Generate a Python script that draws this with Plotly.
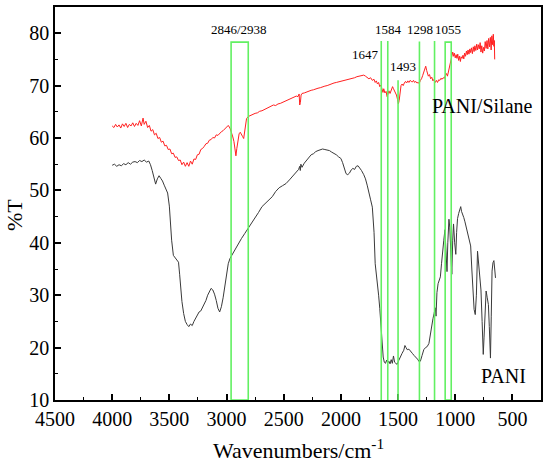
import plotly.graph_objects as go

# PANI spectrum (black)
pani_wn = [4000, 3980, 3960, 3940, 3920, 3900, 3880, 3860, 3840, 3820, 3800, 3780, 3760, 3740, 3720, 3700,
           3680, 3665, 3650, 3635, 3620, 3605, 3590, 3575, 3560, 3545, 3530, 3515, 3500, 3490, 3480, 3465,
           3450, 3435, 3420, 3410, 3400, 3390, 3375, 3360, 3345, 3330, 3315, 3300, 3285, 3270, 3255, 3240,
           3225, 3210, 3195, 3180, 3165, 3150, 3135, 3120, 3105, 3090, 3075, 3060, 3045, 3030, 3015, 3000,
           2985, 2970, 2950, 2930, 2900, 2870, 2840, 2810, 2780, 2750, 2720, 2690, 2660, 2630, 2600, 2570,
           2540, 2510, 2480, 2450, 2420, 2390, 2370, 2360, 2355, 2350, 2340, 2320, 2300, 2280, 2260, 2240,
           2220, 2200, 2180, 2160, 2140, 2120, 2100, 2080, 2060, 2040, 2020, 2000, 1985, 1970, 1955, 1940,
           1925, 1910, 1895, 1880, 1865, 1850, 1835, 1820, 1800, 1785, 1770, 1755, 1740, 1725, 1710, 1700,
           1690, 1680, 1670, 1660, 1650, 1640, 1630, 1620, 1610, 1600, 1590, 1580, 1570, 1560, 1550, 1540,
           1530, 1520, 1508, 1495, 1480, 1465, 1450, 1440, 1430, 1420, 1405, 1390, 1375, 1360, 1345, 1330,
           1315, 1305, 1290, 1275, 1260, 1245, 1230, 1215, 1205, 1195, 1185, 1175, 1168, 1160, 1150, 1140,
           1130, 1120, 1110, 1100, 1090, 1080, 1072, 1065, 1055, 1048, 1040, 1030, 1022, 1015, 1005, 995,
           988, 980, 970, 960, 952, 945, 935, 925, 915, 905, 895, 885, 875, 865, 855, 845,
           835, 825, 815, 805, 795, 785, 775, 765, 755, 748, 740, 730, 720, 710, 702, 692,
           685, 678, 670, 662, 655, 648]
pani_t = [54.8, 55.0, 54.6, 54.9, 54.7, 55.1, 54.9, 55.3, 55.0, 55.4, 55.5, 55.3, 55.7, 55.5, 55.8, 55.4,
          55.6, 54.9, 53.8, 52.4, 51.2, 52.2, 52.8, 52.3, 51.8, 51.0, 50.2, 49.5, 47.0, 43.5, 40.5, 37.6,
          37.2, 36.8, 36.3, 34.0, 31.0, 28.8, 26.5, 25.0, 24.4, 24.0, 24.5, 24.2, 25.0, 25.6, 26.0, 26.8,
          27.0, 27.6, 28.2, 29.0, 30.0, 30.8, 31.3, 31.0, 30.2, 29.0, 27.5, 26.8, 27.8, 29.5, 32.0, 34.5,
          36.0, 37.0, 37.8, 38.5, 39.6, 40.8, 41.8, 42.8, 43.6, 44.6, 45.8, 46.9, 47.6, 48.3, 48.8, 49.8,
          50.5, 50.9, 51.3, 52.0, 52.8, 53.4, 54.0, 54.6, 53.8, 55.0, 54.4, 55.2, 55.8, 56.4, 56.8, 57.0,
          57.4, 57.6, 57.8, 57.9, 57.8, 57.7, 57.6, 57.3, 57.1, 56.8, 56.4, 56.1, 55.3, 54.0, 53.2, 53.0,
          53.3, 53.9, 54.2, 54.0, 54.6, 54.7, 54.3, 53.8, 53.0, 52.2, 51.0, 49.8, 48.2, 46.8, 42.0, 36.0,
          34.2, 32.5, 30.0, 27.5, 24.0, 19.5, 18.2, 17.2, 17.0, 17.6, 17.1, 17.4, 16.9, 17.7, 17.0, 18.4,
          17.2, 17.0, 16.8, 17.5, 18.3, 18.9, 19.5, 20.4, 20.0, 19.6, 19.7, 19.2, 18.9, 18.5, 18.2, 17.8,
          17.3, 17.4, 18.5, 19.6, 20.0, 20.2, 20.8, 22.8, 24.8, 25.5, 26.5, 27.6, 26.0, 30.5, 32.2, 32.8,
          33.5, 36.0, 38.8, 40.5, 42.5, 39.0, 34.5, 40.0, 44.5, 43.0, 38.0, 34.0, 40.5, 43.6, 40.0, 37.8,
          42.0, 44.6, 45.6, 46.4, 46.9, 46.0, 45.5, 44.8, 44.0, 43.0, 42.4, 41.5, 40.0, 39.4, 35.0, 30.5,
          27.3, 26.3, 30.0, 38.4, 36.0, 34.0, 31.0, 25.0, 18.7, 22.0, 27.5, 30.8, 29.5, 28.2, 24.0, 18.0,
          26.0, 34.6, 36.2, 36.6, 35.0, 33.3]

# PANI/Silane spectrum (red)
silane_wn = [4000, 3985, 3970, 3955, 3940, 3925, 3910, 3895, 3880, 3865, 3850, 3835, 3820, 3805, 3790, 3775,
             3760, 3745, 3730, 3720, 3705, 3690, 3675, 3660, 3645, 3630, 3615, 3600, 3585, 3570, 3555, 3540,
             3525, 3510, 3495, 3480, 3465, 3450, 3435, 3420, 3405, 3390, 3375, 3360, 3345, 3330, 3315, 3300,
             3285, 3270, 3255, 3240, 3225, 3210, 3195, 3180, 3165, 3150, 3135, 3120, 3105, 3090, 3075, 3060,
             3045, 3030, 3015, 3000, 2985, 2970, 2955, 2945, 2935, 2925, 2918, 2910, 2900, 2890, 2880, 2870,
             2860, 2850, 2842, 2835, 2825, 2810, 2790, 2770, 2750, 2730, 2710, 2690, 2670, 2650, 2630, 2610,
             2590, 2570, 2550, 2530, 2510, 2490, 2470, 2450, 2430, 2410, 2390, 2375, 2365, 2360, 2354, 2348,
             2340, 2320, 2300, 2280, 2260, 2240, 2220, 2200, 2180, 2160, 2140, 2120, 2100, 2080, 2060, 2040,
             2020, 2000, 1980, 1960, 1940, 1920, 1900, 1880, 1860, 1840, 1820, 1800, 1785, 1770, 1755, 1740,
             1725, 1710, 1700, 1690, 1680, 1670, 1660, 1650, 1640, 1632, 1625, 1615, 1605, 1596, 1588, 1580,
             1570, 1562, 1555, 1548, 1540, 1530, 1522, 1514, 1505, 1497, 1490, 1482, 1474, 1465, 1455, 1445,
             1435, 1425, 1415, 1405, 1395, 1385, 1375, 1365, 1355, 1345, 1335, 1325, 1315, 1305, 1295, 1285,
             1275, 1265, 1258, 1250, 1242, 1235, 1225, 1215, 1205, 1195, 1185, 1175, 1165, 1155, 1145, 1135,
             1125, 1115, 1105, 1095, 1085, 1077, 1068, 1060, 1052, 1045, 1038, 1030, 1022, 1015, 1008, 1000,
             992, 985, 978, 970, 962, 955, 948, 940, 932, 925, 918, 910, 902, 895, 888, 880,
             872, 865, 858, 850, 842, 835, 828, 820, 812, 805, 798, 790, 782, 775, 768, 760,
             752, 745, 738, 730, 722, 715, 708, 700, 693, 686, 680, 673, 667, 662, 658, 655]
silane_t = [62.3, 62.0, 62.6, 62.1, 62.5, 61.9, 62.7, 62.2, 62.8, 62.0, 62.6, 62.3, 62.9, 62.2, 62.8, 62.4,
            63.3, 62.3, 63.8, 62.6, 63.2, 62.0, 62.4, 61.3, 61.6, 60.6, 60.9, 59.9, 60.1, 59.2, 59.4, 58.5,
            58.6, 57.8, 57.9, 57.0, 57.1, 56.3, 56.4, 55.7, 55.8, 54.9, 55.4, 54.6, 55.3, 54.6, 55.6, 55.0,
            56.0, 55.9, 56.8, 56.9, 57.8, 58.0, 58.4, 58.9, 59.0, 59.6, 59.7, 60.1, 60.0, 60.6, 60.5, 60.9,
            61.2, 61.4, 61.8, 62.1, 62.4, 61.9, 61.0, 60.2, 59.3, 57.0, 56.6, 58.0, 59.8, 60.8, 61.1, 60.8,
            60.3, 59.9, 61.0, 62.5, 63.7, 64.1, 64.3, 64.6, 64.7, 64.8, 65.1, 65.2, 65.4, 65.7, 65.8, 66.1,
            66.3, 66.2, 66.5, 66.6, 66.8, 67.0, 67.2, 67.4, 67.6, 67.8, 68.0, 67.9, 68.4, 66.3, 66.8, 68.2,
            68.5, 68.6, 68.8, 68.9, 69.1, 69.2, 69.4, 69.5, 69.6, 69.8, 69.9, 70.0, 70.2, 70.3, 70.5, 70.6,
            70.7, 70.8, 71.0, 71.1, 71.2, 71.3, 71.4, 71.5, 71.7, 71.8, 72.0, 72.0, 71.8, 71.6, 71.3, 71.5,
            71.0, 71.2, 70.6, 70.9, 70.3, 70.6, 69.8, 70.1, 69.3, 68.7, 69.4, 68.6, 68.9, 67.9, 68.4, 69.0,
            68.5, 69.1, 69.6, 69.8, 69.4, 69.0, 68.6, 68.2, 67.4, 66.5, 67.2, 68.8, 70.0, 70.3, 70.0, 70.5,
            70.8, 70.5, 70.9, 70.6, 71.0, 70.8, 70.7, 71.0, 70.6, 70.8, 70.5, 70.6, 70.4, 71.0, 71.3, 71.9,
            72.6, 73.4, 73.7, 72.9, 72.4, 71.8, 72.1, 71.3, 71.6, 70.9, 71.2, 70.6, 71.0, 70.6, 71.1, 71.0,
            71.4, 71.2, 71.5, 71.4, 72.0, 72.3, 71.8, 72.6, 73.2, 74.0, 75.0, 75.8, 76.4, 75.6, 76.2, 75.3,
            75.9, 75.2, 76.0, 74.8, 75.6, 74.6, 75.5, 75.2, 75.8, 75.1, 76.2, 75.6, 76.6, 75.9, 76.8, 76.0,
            77.0, 76.3, 77.2, 76.1, 77.4, 76.5, 77.6, 76.7, 77.9, 76.8, 77.8, 77.0, 78.2, 76.4, 77.6, 76.2,
            77.3, 76.6, 78.4, 77.1, 78.6, 77.0, 79.0, 77.4, 79.2, 76.8, 79.5, 77.8, 79.8, 77.5, 78.6, 75.0]

# green marker lines (wavenumber, top of line)
mark_lines = [1647, 1590, 1500, 1313, 1181]
mark_tops = [78.5, 78.5, 71.0, 78.4, 78.5]
# green boxes (from, to, top)
box_from = [2960, 1088]
box_to = [2810, 1035]
box_top = [78.3, 78.3]

# peak labels
peak_labels = ["2846/2938", "1584", "1298", "1055", "1647", "1493"]
peak_x = [2890, 1583, 1307, 1061, 1785, 1454]
peak_y = [80.8, 80.8, 80.8, 80.8, 76.0, 73.6]

green = "#62f062"
fnt = "Liberation Serif, Times New Roman, serif"

fig = go.Figure()
fig.add_trace(go.Scatter(x=silane_wn, y=silane_t, mode="lines",
                         line=dict(color="#ff2020", width=1), name="PANI/Silane"))
fig.add_trace(go.Scatter(x=pani_wn, y=pani_t, mode="lines",
                         line=dict(color="#3a3a3a", width=1), name="PANI"))

for xv, top in zip(mark_lines, mark_tops):
    fig.add_shape(type="line", x0=xv, x1=xv, y0=10, y1=top, xref="x", yref="y",
                  line=dict(color=green, width=1.6))
for a, b, top in zip(box_from, box_to, box_top):
    fig.add_shape(type="rect", x0=a, x1=b, y0=10, y1=top, xref="x", yref="y",
                  line=dict(color=green, width=1.6))

for txt, xv, yv in zip(peak_labels, peak_x, peak_y):
    fig.add_annotation(x=xv, y=yv, text=txt, showarrow=False,
                       font=dict(family=fnt, size=13, color="black"))

fig.add_annotation(x=759, y=66.1, text="PANI/Silane", showarrow=False,
                   font=dict(family=fnt, size=20, color="black"))
fig.add_annotation(x=575, y=14.6, text="PANI", showarrow=False,
                   font=dict(family=fnt, size=20, color="black"))

# axis titles
fig.add_annotation(x=0.5, y=-0.124, xref="paper", yref="paper", text="Wavenumbers/cm<sup>-1</sup>",
                   showarrow=False, yanchor="middle", font=dict(family=fnt, size=22, color="black"))
fig.add_annotation(x=-0.083, y=0.47, xref="paper", yref="paper", text="%T", textangle=-90,
                   showarrow=False, xanchor="center", yanchor="middle",
                   font=dict(family=fnt, size=22, color="black"))

fig.update_layout(
    width=550, height=465,
    margin=dict(l=55, r=9, t=7, b=65),
    paper_bgcolor="white", plot_bgcolor="white",
    showlegend=False,
    font=dict(family=fnt, color="black"),
)
fig.update_xaxes(
    range=[4500, 250], tickvals=[4500, 4000, 3500, 3000, 2500, 2000, 1500, 1000, 500],
    ticks="inside", ticklen=6, tickwidth=1.5, tickcolor="black",
    minor=dict(ticks="inside", ticklen=3, tickwidth=1.2, dtick=250, tickcolor="black"),
    showline=True, linewidth=1.5, linecolor="black", mirror=True,
    showgrid=False, zeroline=False, automargin=False,
    tickfont=dict(family=fnt, size=20),
)
fig.update_yaxes(
    range=[10, 85], tickvals=[10, 20, 30, 40, 50, 60, 70, 80],
    ticks="inside", ticklen=6, tickwidth=1.5, tickcolor="black",
    minor=dict(ticks="inside", ticklen=3, tickwidth=1.2, dtick=5, tickcolor="black"),
    showline=True, linewidth=1.5, linecolor="black", mirror=True,
    showgrid=False, zeroline=False, automargin=False,
    tickfont=dict(family=fnt, size=20),
)

# drop the page's default body margin so the figure sits at the window corner
fig.write_html("out.html", config={"displayModeBar": False},
               post_script="document.body.style.margin='0px';")
